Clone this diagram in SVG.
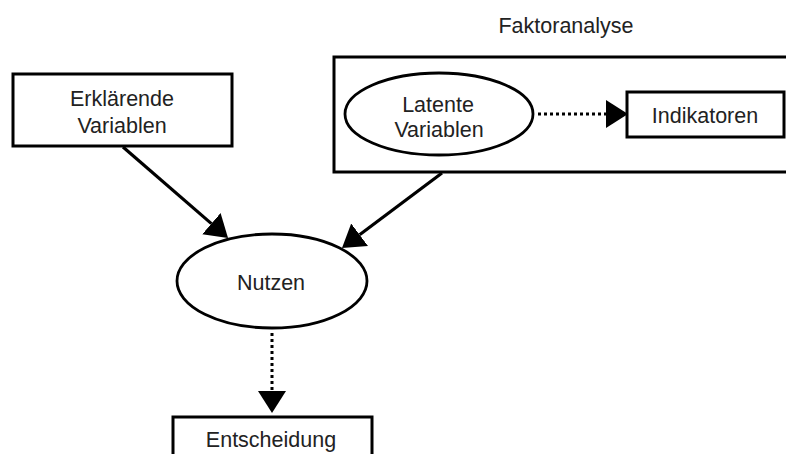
<svg xmlns="http://www.w3.org/2000/svg" width="786" height="454" viewBox="0 0 786 454">
<style>
.box{fill:#fff;stroke:#000;stroke-width:3}
.frame{fill:none;stroke:#000;stroke-width:3}
.ell{fill:#fff;stroke:#000;stroke-width:2.8}
.t{font-family:"Liberation Sans",Arial,sans-serif;font-size:21.5px;fill:#222;text-anchor:middle}
.solid{stroke:#000;stroke-width:3.2;fill:none}
.dot{stroke:#000;stroke-width:3;fill:none;stroke-dasharray:3 3}
</style>
<defs>
<marker id="ah" markerUnits="userSpaceOnUse" markerWidth="22" markerHeight="30" viewBox="0 -15 22 30" refX="0" refY="0" orient="auto">
<path d="M0,-14 L22,0 L0,14 Z" fill="#000"/>
</marker>
</defs>
<rect width="786" height="454" fill="#fff"/>
<g id="faktoranalyse">
<rect class="frame" x="334" y="57" width="470" height="115"/>
<text class="t" x="566" y="33">Faktoranalyse</text>
</g>
<g id="erklaerende">
<rect class="box" x="13" y="74" width="219" height="72"/>
<text class="t" x="122" y="106">Erklärende</text>
<text class="t" x="122" y="133">Variablen</text>
</g>
<g id="latente">
<ellipse class="ell" cx="439" cy="114" rx="94" ry="41"/>
<text class="t" x="438" y="112">Latente</text>
<text class="t" x="439" y="137">Variablen</text>
</g>
<g id="indikatoren">
<rect class="box" x="627" y="92" width="157" height="45"/>
<text class="t" x="705" y="123">Indikatoren</text>
</g>
<g id="nutzen">
<ellipse class="ell" cx="272" cy="281" rx="95" ry="47"/>
<text class="t" x="271" y="290">Nutzen</text>
</g>
<g id="entscheidung">
<rect class="box" x="173" y="417" width="199" height="60"/>
<text class="t" x="271" y="447">Entscheidung</text>
</g>
<g id="connectors">
<line class="solid" x1="123" y1="147" x2="211.4" y2="223.6" marker-end="url(#ah)"/>
<line class="solid" x1="442" y1="173" x2="359.6" y2="234.8" marker-end="url(#ah)"/>
<line class="dot" x1="538" y1="114" x2="606" y2="114" marker-end="url(#ah)"/>
<line class="dot" x1="272" y1="333" x2="272" y2="391" marker-end="url(#ah)"/>
</g>
</svg>
